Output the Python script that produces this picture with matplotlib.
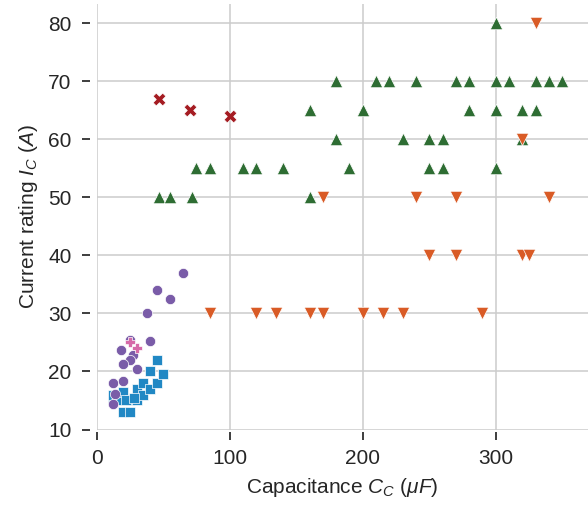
import matplotlib
matplotlib.use("Agg")
import matplotlib.pyplot as plt

plt.rcParams['font.family'] = ['Liberation Sans', 'DejaVu Sans']
plt.rcParams['mathtext.fontset'] = 'custom'
plt.rcParams['mathtext.rm'] = 'Liberation Sans'
plt.rcParams['mathtext.it'] = 'Liberation Sans:italic'
plt.rcParams['mathtext.bf'] = 'Liberation Sans:bold'

# ---- data ----
blue_x = [12, 12, 15, 20, 20, 25, 25, 30, 30, 35, 35, 40, 40, 45, 45, 50, 22, 28]
blue_y = [15.5, 16, 15, 16.5, 13, 13, 15, 15, 17, 16, 18, 17, 20, 18, 22, 19.5, 15, 15.5]

purple_x = [65, 45, 55, 38, 25, 40, 18, 27, 25, 20, 30, 12, 20, 14, 12]
purple_y = [37, 34, 32.5, 30, 25.5, 25.2, 23.7, 22.8, 22, 21.2, 20.4, 18, 18.3, 16.2, 14.4]

pink_x = [25, 30]
pink_y = [25, 24]

red_x = [47, 70, 100]
red_y = [67, 65, 64]

green_x = [47, 55, 72, 75, 85, 110, 120, 140, 160, 160, 180, 180, 190, 200, 210,
           220, 230, 240, 250, 250, 260, 260, 270, 280, 280, 300, 300, 300, 300,
           310, 320, 320, 330, 330, 340, 350]
green_y = [50, 50, 50, 55, 55, 55, 55, 55, 50, 65, 70, 60, 55, 65, 70,
           70, 60, 70, 60, 55, 60, 55, 70, 70, 65, 80, 70, 65, 55,
           70, 65, 60, 70, 65, 70, 70]

orange_x = [85, 120, 135, 160, 170, 200, 215, 230, 290, 250, 270, 320, 325,
            170, 240, 270, 340, 320, 330]
orange_y = [30, 30, 30, 30, 30, 30, 30, 30, 30, 40, 40, 40, 40,
            50, 50, 50, 50, 60, 80]

x_ticks = [0, 100, 200, 300]
y_ticks = [10, 20, 30, 40, 50, 60, 70, 80]

fig = plt.figure(figsize=(5.88, 5.05), dpi=100)
ax = fig.add_axes([0.1645, 0.1495, 1 - 0.1645, 0.992 - 0.1495])

kw = dict(edgecolor='white', linewidths=0.5, zorder=3)
ax.scatter(blue_x, blue_y, marker='s', s=55, color='#2188c4', **kw)
ax.scatter(purple_x, purple_y, marker='o', s=55, color='#7a5ca8', **kw)
ax.scatter(pink_x, pink_y, marker='P', s=55, color='#d66aa8', **kw)
ax.scatter(red_x, red_y, marker='X', s=85, color='#a51c22', **kw)
ax.scatter(green_x, green_y, marker='^', s=80, color='#2e6d33', **kw)
ax.scatter(orange_x, orange_y, marker='v', s=80, color='#d95b26', **kw)

ax.set_xlim(0, 369.4)
ax.set_ylim(10, 83.3)
ax.set_xticks(x_ticks)
ax.set_yticks(y_ticks)

ax.grid(True, color='#cccccc', linewidth=1.1, zorder=0)
ax.set_axisbelow(True)
for sp in ['top', 'right']:
    ax.spines[sp].set_visible(False)
ax.spines['left'].set_position(('outward', 5))
ax.spines['bottom'].set_position(('outward', 1.5))
ax.spines['left'].set_visible(False)
ax.spines['bottom'].set_visible(False)

ax.tick_params(axis='both', which='major', length=6, width=1.25, color='#262626',
               labelcolor='#262626', labelsize=15)
ax.tick_params(axis='x', pad=6.5)
ax.tick_params(axis='y', pad=7)

ax.set_xlabel(r'Capacitance $C_C$ ($\mu F$)', fontsize=15, color='#262626', labelpad=6)
ax.set_ylabel(r'Current rating $I_C$ ($A$)', fontsize=15, color='#262626', labelpad=6)

fig.savefig('out.png', dpi=100)
